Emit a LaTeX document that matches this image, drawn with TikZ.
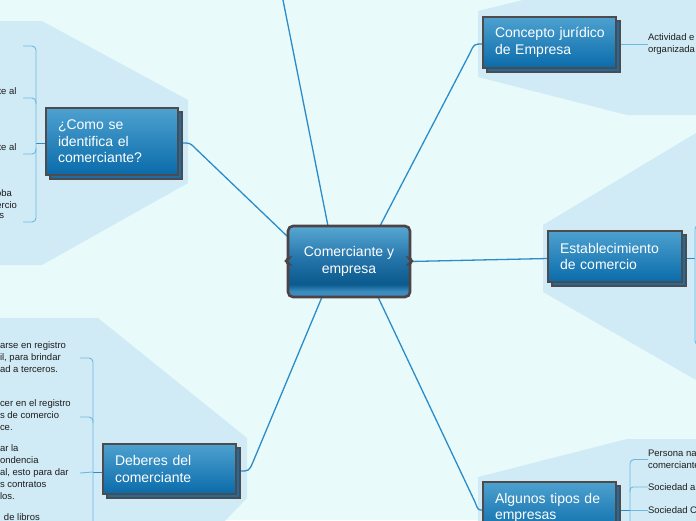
\documentclass[tikz,border=0pt]{standalone}
\usepackage{fontspec}
\setmainfont{Liberation Sans}
\usetikzlibrary{calc}
\definecolor{bgc}{HTML}{E9FAFB}
\definecolor{panelc}{HTML}{D0EBF5}
\definecolor{boxtop}{HTML}{4DA1CF}
\definecolor{boxbot}{HTML}{0A6BAA}
\definecolor{boxedge}{HTML}{4F4A4B}
\definecolor{shadowfill}{HTML}{1A6DA5}
\definecolor{mainlinec}{HTML}{2C8CC8}
\definecolor{sublinec}{HTML}{6CB8DF}
\definecolor{leafc}{HTML}{1E1E1E}
\definecolor{cs1}{HTML}{4090C2}
\definecolor{cs2}{HTML}{3A8BBE}
\definecolor{cs3}{HTML}{0B5A8D}
\definecolor{cs4}{HTML}{2474AA}
\definecolor{cs5}{HTML}{58A8D4}
\definecolor{centeredge}{HTML}{4E4344}
\pgfdeclareverticalshading{centershade}{100bp}{color(0bp)=(cs1); color(25bp)=(cs1); color(29bp)=(cs2); color(34bp)=(cs3); color(52bp)=(cs4); color(75bp)=(cs5); color(100bp)=(cs5)}
\pgfdeclarelayer{bgl}
\pgfdeclarelayer{linel}
\pgfsetlayers{bgl,linel,main}
\tikzset{
  topicbox/.style={anchor=north west, draw=boxedge, line width=2pt, top color=boxtop, bottom color=boxbot,
    text=white, font=\fontsize{14}{16.5}\selectfont, align=left, inner xsep=12pt, inner ysep=0pt, outer sep=0pt},
  shadowbox/.style={anchor=north west, draw=boxedge, line width=2pt, fill=shadowfill, inner sep=0pt, outer sep=0pt},
  leaf/.style={text=leafc, font=\fontsize{9.5}{12}\selectfont, align=left, inner sep=0pt, outer sep=0pt},
  mainl/.style={draw=mainlinec, line width=1.3pt},
  linkl/.style={draw=mainlinec, line width=1pt},
  subl/.style={draw=sublinec, line width=0.9pt},
  panel/.style={fill=panelc}
}
\begin{document}
\begin{tikzpicture}[x=1pt,y=-1pt]
\useasboundingbox (0,0) rectangle (696,520);
\begin{pgfonlayer}{bgl}
  \fill[bgc] (0,0) rectangle (696,520);
  % panels
  \fill[panel] (0,21) -- (42,21) -- (188,100) -- (188,183) -- (42,265) -- (0,265) -- cycle;
  \fill[panel] (0,318) -- (98,318) -- (247,438) -- (247,498) -- (222,524) -- (0,524) -- cycle;
  \fill[panel] (523,0) -- (478,11) -- (478,77) -- (627,115) -- (696,115) -- (696,0) -- cycle;
  \fill[panel] (543,225) -- (696,133) -- (696,380) -- (543,292) -- cycle;
  \fill[panel] (478,477) -- (627,439) -- (696,439) -- (696,524) -- (478,524) -- cycle;
\end{pgfonlayer}

% shadow boxes
\node[shadowbox, minimum width=132pt, minimum height=67pt] (comosh) at (50,112) {};
\node[shadowbox, minimum width=133pt, minimum height=50pt] (debsh) at (107,448) {};
\node[shadowbox, minimum width=133pt, minimum height=51pt] (concsh) at (487,21) {};
\node[shadowbox, minimum width=134pt, minimum height=51pt] (estabsh) at (552,235) {};
\node[shadowbox, minimum width=133pt, minimum height=52pt] (algsh) at (487,486) {};

% topic boxes
\node[topicbox, text width=108pt, minimum height=67pt] (como) at (46,108) {\mbox{¿Como se}\\ \mbox{identifica el}\\ \mbox{comerciante?}};
\node[topicbox, text width=109pt, minimum height=50pt] (deberes) at (103,444) {\mbox{Deberes del}\\ \mbox{comerciante}};
\node[topicbox, text width=109pt, minimum height=51pt] (concepto) at (483,17) {\mbox{Concepto jurídico}\\ \mbox{de Empresa}};
\node[topicbox, text width=110pt, minimum height=51pt] (estab) at (548,231) {\mbox{Establecimiento}\\ \mbox{de comercio}};
\node[topicbox, text width=109pt, minimum height=52pt] (algunos) at (483,482) {\mbox{Algunos tipos de}\\ \mbox{empresas}};

% central topic
\path[draw=centeredge, line width=2.6pt, shading=centershade, rounded corners=5pt]
  (288,226) -- (410,226) -- (410,253)
  .. controls (410,259) and (412,260) .. (414,261)
  .. controls (412,262) and (410,263) .. (410,269)
  -- (410,297) -- (288,297) -- (288,269)
  .. controls (288,263) and (286,262) .. (284,261)
  .. controls (286,260) and (288,259) .. (288,253) -- cycle;
\node[text=white, font=\fontsize{14}{17}\selectfont, align=center, minimum width=122pt, minimum height=71pt, inner sep=0pt, outer sep=0pt] (center) at (349,261.5) {Comerciante y\\ empresa};

% leaf texts
\node[leaf, anchor=west] (lconc) at (648,44) {Actividad e\\organizada};
\node[leaf, anchor=west] (lalg1) at (648,459.5) {Persona nat\\comerciante};
\node[leaf, anchor=west] (lalg2) at (648,487) {Sociedad a};
\node[leaf, anchor=west] (lalg3) at (648,510) {Sociedad C};
\node[leaf, anchor=east] (lcomo2) at (16.5,91) {te al};
\node[leaf, anchor=east] (lcomo3) at (16.5,147) {te al};
\node[leaf, anchor=east] (lcomo4a) at (12,193) {oba};
\node[leaf, anchor=east] (lcomo4b) at (17,205) {ercio};
\node[leaf, anchor=east] (lcomo4c) at (4,216) {s};
\node[leaf, anchor=west] (ldeb1) at (0,357) {arse en registro\\il, para brindar\\ad a terceros.};
\node[leaf, anchor=west] (ldeb2) at (0,415) {cer en el registro\\s de comercio\\ce.};
\node[leaf, anchor=west] (ldeb3) at (0,472) {ar la\\ondencia\\al, esto para dar\\s contratos\\los.};
\node[leaf, anchor=west] (ldeb4) at (4,517) {de libros};

% named free ends
\coordinate (offtop) at (282,-5);
\coordinate (cj) at (36,143);
\coordinate (c1) at (23,46);
\coordinate (c2) at (23,98);
\coordinate (c3) at (23,154);
\coordinate (c4) at (23,222);
\coordinate (dj) at (93,472);
\coordinate (d1) at (80,358);
\coordinate (d2) at (80,417);
\coordinate (d3) at (80,473);
\coordinate (dbot) at (93,530);
\coordinate (ej) at (695,258);
\coordinate (aj) at (630,510);
\coordinate (abot) at (630,530);

\begin{pgfonlayer}{linel}
  % main connectors
  \draw[mainl] ($(center.north)+(-21,0)$) -- (offtop);
  \draw[mainl] ($(center.west)+(0,-24.5)$) -- (195,148) .. controls (190,143) .. ($(comosh.east)+(0,-2.5)$);
  \draw[mainl] ($(center.north)+(31,0)$) -- (470,53) .. controls (474,44) .. ($(concepto.west)+(0,1.5)$);
  \draw[mainl] (center.east) -- ($(estab.west)+(0,2)$);
  \draw[mainl] ($(center.south)+(-27,0)$) -- (253,462) .. controls (249,471) .. ($(debsh.east)+(0,-2)$);
  \draw[mainl] ($(center.south)+(29,0)$) -- (475,502) .. controls (478,510) .. ($(algunos.west)+(0,2)$);
  % sub connectors: como
  \draw[linkl] (como.west) ++(0,1.5) -- (cj);
  \draw[subl, rounded corners=4pt] (c1) -| (cj);
  \draw[subl, rounded corners=4pt] (c4) -| (cj);
  \draw[subl, rounded corners=4pt] (c2) -| (36,104);
  \draw[subl, rounded corners=4pt] (c3) -| (36,148);
  % deberes
  \draw[linkl] ($(deberes.west)+(0,3)$) -- (dj);
  \draw[subl, rounded corners=4pt] (d1) -| (dbot);
  \draw[subl, rounded corners=4pt] (d2) -| (93,423);
  \draw[subl] (d3) -- (dj);
  % concepto
  \draw[subl] ($(concepto.east)+(0,1.5)$) -- (lconc.west);
  % establecimiento
  \draw[linkl] ($(estab.east)+(0,1.5)$) -- (ej);
  \draw[subl, rounded corners=4pt] (700,225) -| (695,345) -- (700,345);
  % algunos
  \draw[linkl] ($(algunos.east)+(0,2)$) -- (aj);
  \draw[subl, rounded corners=4pt] (lalg1.west) -| (abot);
  \draw[subl, rounded corners=3pt] (lalg2.west) -| (630,492);
  \draw[subl] (lalg3.west) -- (aj);
\end{pgfonlayer}
\end{tikzpicture}
\end{document}
